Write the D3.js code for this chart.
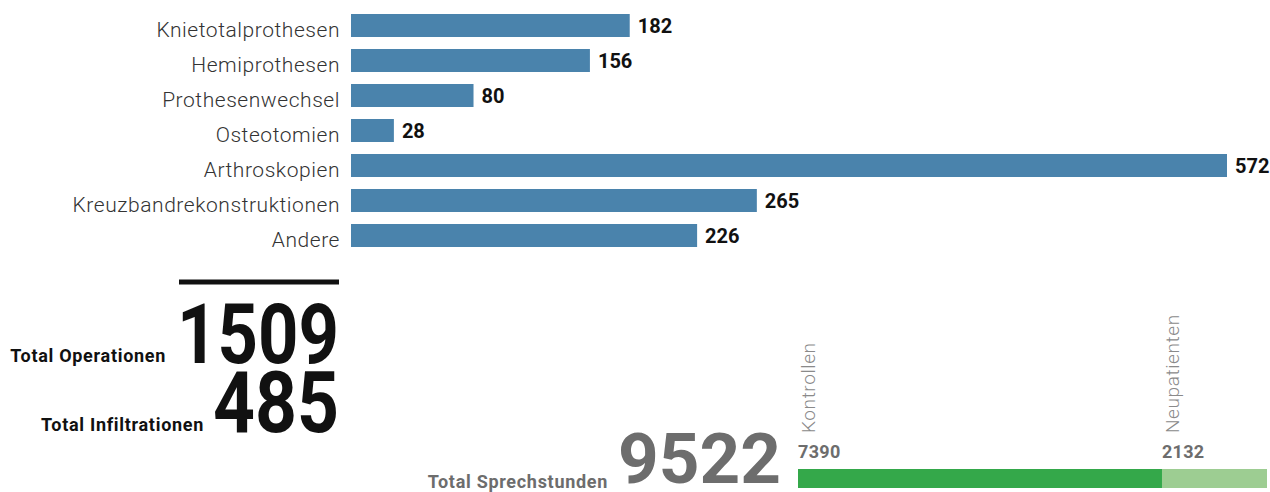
<!DOCTYPE html>
<html>
  <head>
    <meta charset="UTF-8">
    <script src="https://cdn.jsdelivr.net/npm/d3@7"></script>
    <title>Operationen und Sprechstunden</title>
    <style>
      body { margin: 0; background: #fff; }
      svg { display: block; font-family: Roboto, "Noto Sans", sans-serif; }
    </style>
  </head>
  <body>
    <svg id="chart" width="1270" height="492"></svg>
  <script>
      // operations per category
      var categories = ["Knietotalprothesen", "Hemiprothesen", "Prothesenwechsel", "Osteotomien",
                        "Arthroskopien", "Kreuzbandrekonstruktionen", "Andere"];
      var counts = [182, 156, 80, 28, 572, 265, 226];

      // totals
      var totalLabels = ["Total Operationen", "Total Infiltrationen", "Total Sprechstunden"];
      var totalValues = [1509, 485, 9522];

      // consultations split
      var visitTypes = ["Kontrollen", "Neupatienten"];
      var visitCounts = [7390, 2132];

      var svg = d3.select("#chart");

      var y = d3.scaleBand()
                .domain(categories)
                .range([8, 253])
                .paddingInner(12 / 35)
                .paddingOuter(6 / 35);
      var x = d3.scaleLinear()
                .domain([0, d3.max(counts)])
                .range([351, 1227]);

      var rows = svg.append("g").selectAll("g")
                    .data(categories)
                    .enter().append("g");

      rows.append("rect")
          .attr("x", x(0))
          .attr("y", function(d){ return y(d); })
          .attr("width", function(d, i){ return x(counts[i]) - x(0); })
          .attr("height", y.bandwidth())
          .attr("fill", "#4a83ac");

      rows.append("text")
          .attr("x", 340)
          .attr("y", function(d){ return y(d) + y.bandwidth() - 0.5; })
          .attr("text-anchor", "end")
          .attr("font-size", 21)
          .attr("font-weight", 300)
          .attr("letter-spacing", 0.55)
          .attr("fill", "#333")
          .text(function(d){ return d; });

      rows.append("text")
          .attr("x", function(d, i){ return x(counts[i]) + 8; })
          .attr("y", function(d){ return y(d) + y.bandwidth() / 2 + 7.5; })
          .attr("font-size", 20)
          .attr("font-weight", 700)
          .attr("fill", "#111")
          .text(function(d, i){ return counts[i]; });

      // rule above the totals
      svg.append("rect")
         .attr("x", 179).attr("y", 279.5)
         .attr("width", 160).attr("height", 5)
         .attr("fill", "#111");

      // big totals
      var big = [
        {x: 177, base: 363, len: 162, size: 84, color: "#111", labelEnd: 166},
        {x: 213, base: 432, len: 126, size: 85, color: "#111", labelEnd: 204},
        {x: 618, base: 483, len: 163, size: 70, color: "#6d6d6d", labelEnd: 608}
      ];
      big.forEach(function(b, i){
          svg.append("text")
             .attr("x", b.x).attr("y", b.base)
             .attr("font-size", b.size)
             .attr("font-weight", 700)
             .attr("textLength", b.len)
             .attr("lengthAdjust", "spacingAndGlyphs")
             .attr("fill", b.color)
             .text(totalValues[i]);
          svg.append("text")
             .attr("x", b.labelEnd).attr("y", i == 2 ? 488 : b.base - 1)
             .attr("text-anchor", "end")
             .attr("font-size", 18)
             .attr("font-weight", 700)
             .attr("letter-spacing", 0.7)
             .attr("fill", b.color)
             .text(totalLabels[i]);
      });

      // stacked consultations bar
      var xv = d3.scaleLinear()
                 .domain([0, d3.sum(visitCounts)])
                 .range([798, 1267]);
      var starts = [0].concat(Array.from(d3.cumsum(visitCounts)));
      var visitColors = ["#34a84a", "#9dcd92"];

      var seg = svg.append("g").selectAll("g")
                   .data(visitTypes)
                   .enter().append("g");

      seg.append("rect")
         .attr("x", function(d, i){ return xv(starts[i]); })
         .attr("y", 469)
         .attr("width", function(d, i){ return xv(starts[i + 1]) - xv(starts[i]); })
         .attr("height", 19)
         .attr("fill", function(d, i){ return visitColors[i]; });

      seg.append("text")
         .attr("x", function(d, i){ return xv(starts[i]); })
         .attr("y", 457.5)
         .attr("font-size", 18)
         .attr("font-weight", 700)
         .attr("letter-spacing", 0.3)
         .attr("fill", "#6d6d6d")
         .text(function(d, i){ return visitCounts[i]; });

      seg.append("text")
         .attr("transform", function(d, i){
             return "translate(" + (xv(starts[i]) + 17) + ",433) rotate(-90)";
         })
         .attr("font-size", 19)
         .attr("font-weight", 300)
         .attr("letter-spacing", 0.6)
         .attr("fill", "#8a8a8a")
         .text(function(d){ return d; });
  </script>
  </body>
</html>
